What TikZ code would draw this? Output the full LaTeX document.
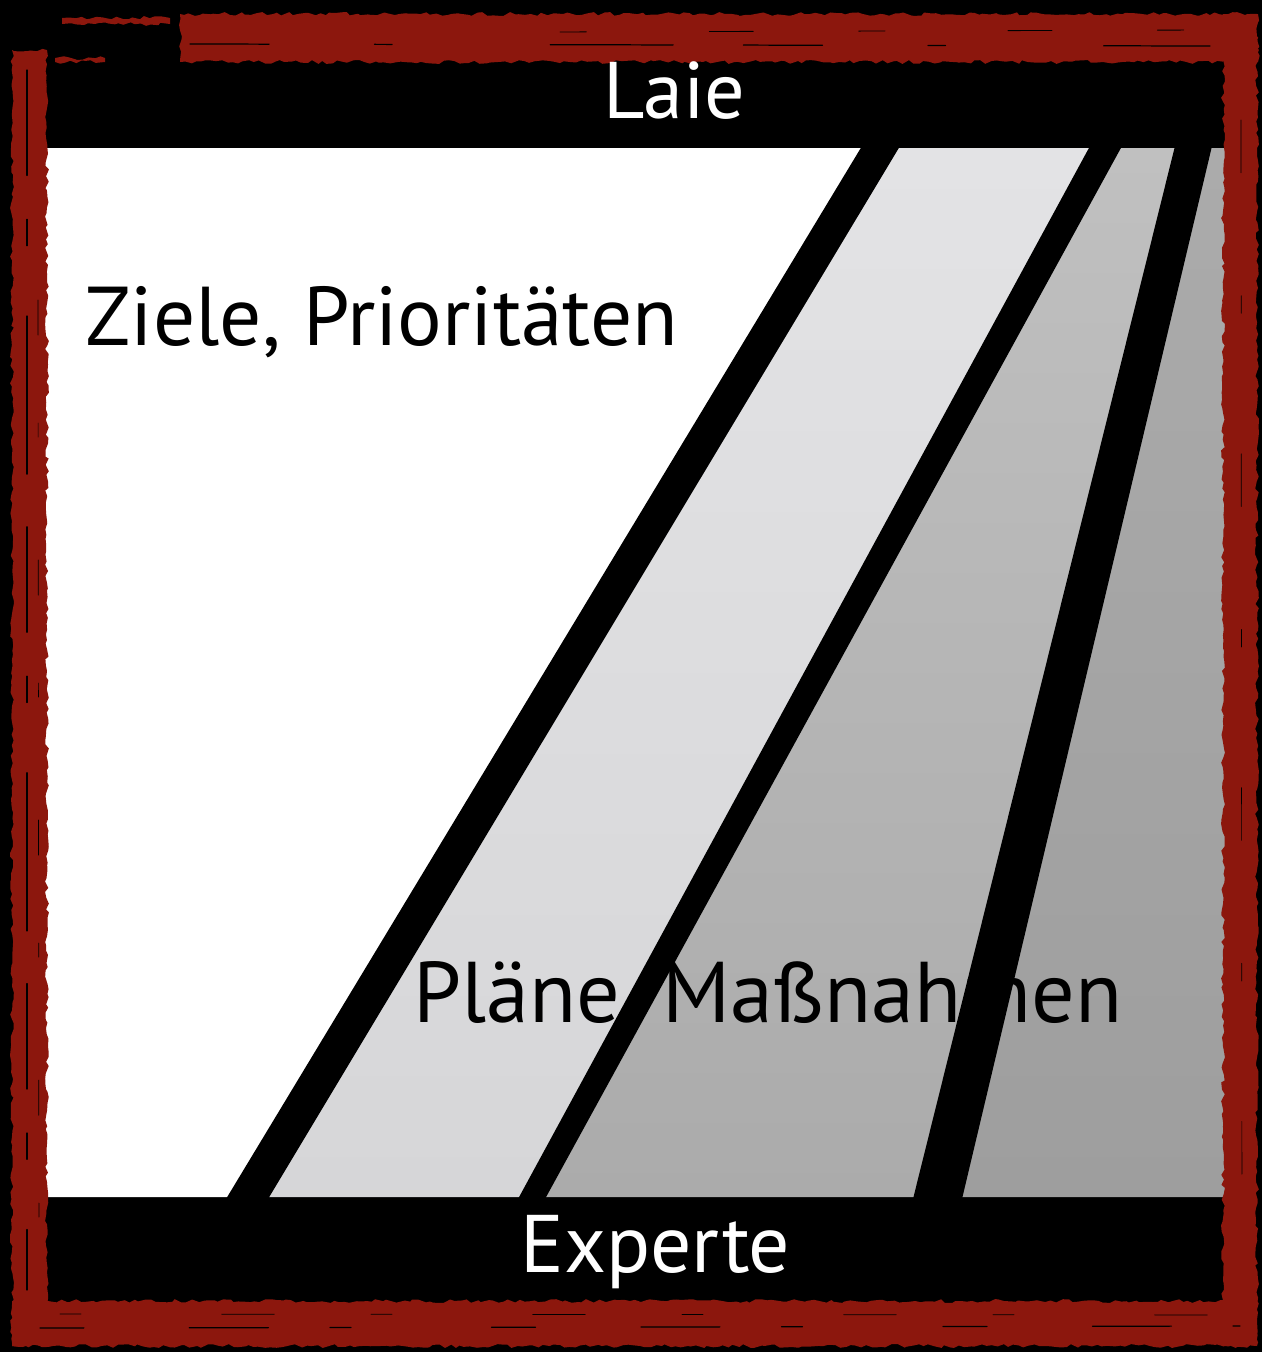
\documentclass[tikz,border=0pt]{standalone}
\usepackage{fontspec}
\setmainfont{PT Sans}
\usetikzlibrary{decorations.pathmorphing}
\definecolor{frame}{HTML}{8C170D}
\definecolor{lgtop}{HTML}{E3E3E5}
\definecolor{lgbot}{HTML}{D6D6D8}
\definecolor{mgtop}{HTML}{C0C0C0}
\definecolor{mgbot}{HTML}{ABABAB}
\definecolor{rgtop}{HTML}{ABABAB}
\definecolor{rgbot}{HTML}{9E9E9E}
\begin{document}
\begin{tikzpicture}[x=0.02cm,y=-0.02cm,
  rough/.style={decorate,decoration={random steps,segment length=3pt,amplitude=1.1pt}},
  band/.style={fill=frame,rough},
  streak/.style={draw=black,line width=0.7pt,line cap=round},
  lbl/.style={inner sep=0pt,anchor=base west},
  stripe/.style={fill=black}]
\pgfmathsetseed{7}
\useasboundingbox (0,0) rectangle (1262,1352);
\fill[black] (0,0) rectangle (1262,1352);
% panel regions
\fill[white] (44,148) -- (880,148) -- (247,1197) -- (44,1197) -- cycle;
\shade[top color=lgtop,bottom color=lgbot] (880,148) -- (1106,148) -- (531,1197) -- (247,1197) -- cycle;
\shade[top color=mgtop,bottom color=mgbot] (1106,148) -- (1193,148) -- (937,1197) -- (531,1197) -- cycle;
\shade[top color=rgtop,bottom color=rgbot] (1193,148) -- (1230,148) -- (1230,1197) -- (937,1197) -- cycle;
% texts under the stripes
\node[lbl] (ziele) at (85,345) {\resizebox{11.86cm}{!}{Ziele, Prioritäten}};
\node[lbl] (plaene) at (413,1022) {\resizebox{14.18cm}{!}{Pläne, Maßnahmen}};
% black stripes
\fill[stripe] (862,146) -- (900,146) -- (268,1199) -- (226,1199) -- cycle;
\fill[stripe] (1090,146) -- (1122,146) -- (545,1199) -- (518,1199) -- cycle;
\fill[stripe] (1175,146) -- (1212,146) -- (962,1199) -- (913,1199) -- cycle;
% rough red frame
\fill[band] (180,14) rectangle (1258,62);
\fill[band] (62,18) rectangle (170,24);
\fill[band] (55,58) rectangle (105,62);
\fill[band] (12,50) rectangle (47,1346);
\fill[band] (1223,14) rectangle (1257,1346);
\fill[band] (12,1301) rectangle (1257,1346);
% dark streaks in the frame
\draw[streak,dash pattern=on 60pt off 25pt on 15pt off 40pt on 90pt off 30pt] (27,70) -- (27,1290);
\draw[streak,line width=0.4pt,dash pattern=on 20pt off 50pt on 8pt off 70pt] (38,300) -- (39,1280);
\draw[streak,dash pattern=on 45pt off 60pt on 10pt off 90pt on 70pt off 40pt] (190,44) -- (1210,46);
\draw[streak,line width=0.5pt,dash pattern=on 15pt off 70pt on 25pt off 60pt] (560,32) -- (1200,30);
\draw[streak,dash pattern=on 25pt off 60pt on 45pt off 35pt on 12pt off 80pt] (40,1328) -- (1240,1326);
\draw[streak,line width=0.4pt,dash pattern=on 12pt off 80pt on 30pt off 55pt] (60,1314) -- (1230,1315);
\draw[streak,line width=0.4pt,dash pattern=on 30pt off 70pt on 10pt off 80pt] (1241,120) -- (1242,1290);
% bar labels
\node[lbl,text=white] (laie) at (603,118) {\resizebox{2.84cm}{!}{Laie}};
\node[lbl,text=white] (experte) at (520,1272) {\resizebox{5.4cm}{!}{Experte}};
\end{tikzpicture}
\end{document}
